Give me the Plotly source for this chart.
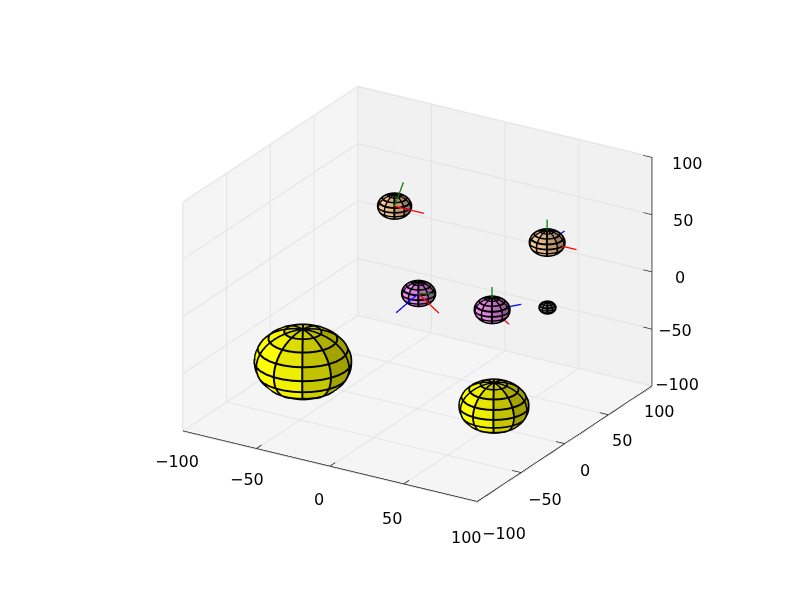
import numpy as np
import plotly.graph_objects as go

body_x = [-40.5, 71.5, -57.5, 64, -15, 34, 52]
body_y = [-62.9, -33.1, 70.5, 40.4, 26.4, 28, 61]
body_z = [-40, -59.1, 23.5, 44.4, -17.4, -17.4, -26.5]
body_r = [28, 20, 9.5, 10, 9.5, 10, 4.5]
body_rgb = [(255, 255, 0), (255, 255, 0), (250, 200, 150), (250, 200, 150),
            (240, 140, 240), (240, 140, 240), (170, 170, 170)]

origin_x = [-52.3, 64, -9.8, 34]
origin_y = [61.55, 40.4, 17.4, 28]
origin_z = [29.5, 44.4, -11.4, -17.4]
red_tip = [(-36, 68.05, 25.1), (84, 40.4, 44.4), (4.4, 17.2, -24), (39.5, 38.35, -33.55)]
green_tip = [(-52.3, 71.95, 45.2), (64, 40.4, 64.4), (-1.7, 22.05, -11.4), (34, 28, 2.6)]
blue_tip = [(-44.2, 64.95, 27.6), (64, 60.4, 44.4), (-17.3, 4.7, -24), (43.2, 45.8, -18.7)]

tick_vals = [-100, -50, 0, 50, 100]
tick_text = ["\u2212100", "\u221250", "0", "50", "100"]

x_label_shift = [(-5.5, -30), (-9, -31), (-11, -33), (-12, -34), (-10.5, -36)]
y_label_shift = [(26.5, -32), (24, -27), (20.5, -26.5), (14, -25), (7.5, -25)]
z_label_shift = [(24.5, 2), (23, -2), (27.5, -5.5), (31, -6), (35.5, -6)]

N_LAT, N_LON, SUB = 8, 10, 3
LIGHT = np.array([-0.8, -0.5, -0.15])
R_EYE = 2.41
EYE_DIR = (0.473, -0.785, 0.398)
VIEW = np.array([0.433, -0.75, 0.5])
CENTER = (-0.0178, -0.0319, -0.0425)


def sphere_grid(cx, cy, cz, r):
    th = np.linspace(0, np.pi, N_LAT * SUB + 1)
    ph = np.linspace(0, 2 * np.pi, N_LON * SUB + 1)[:-1] - 1.047
    T, P = np.meshgrid(th, ph, indexing="ij")
    return (cx + r * np.sin(T) * np.cos(P), cy + r * np.sin(T) * np.sin(P), cz + r * np.cos(T))


def sphere_mesh(X, Y, Z, rgb, shaded=True):
    M = N_LON * SUB
    idx = lambda i, j: i * M + (j % M)
    I, J, K, FC = [], [], [], []
    for i in range(N_LAT * SUB):
        for j in range(M):
            a, b, c, d = idx(i, j), idx(i, j + 1), idx(i + 1, j + 1), idx(i + 1, j)
            tm = (i // SUB + 0.5) * np.pi / N_LAT
            pm = (j // SUB + 0.5) * 2 * np.pi / N_LON - 1.047
            n = np.array([np.sin(tm) * np.cos(pm), np.sin(tm) * np.sin(pm), np.cos(tm)])
            s = min(1.0, max(0.63, 0.85 + 0.3 * float(n @ LIGHT))) if shaded else 1.0
            col = "rgb(%d,%d,%d)" % tuple(int(v * s) for v in rgb)
            for tri in ((a, b, c), (a, c, d)):
                I.append(tri[0]); J.append(tri[1]); K.append(tri[2]); FC.append(col)
    return go.Mesh3d(x=X.ravel(), y=Y.ravel(), z=Z.ravel(), i=I, j=J, k=K, facecolor=FC,
                     flatshading=True, hoverinfo="skip", showscale=False,
                     lighting=dict(ambient=1, diffuse=0, specular=0, roughness=1, fresnel=0))


def sphere_parts(cx, cy, cz, r, rgb):
    X, Y, Z = sphere_grid(cx, cy, cz, r)
    WX, WY, WZ = sphere_grid(cx, cy, cz, r * 1.015)
    back = max(0.3 * r, 2.0)
    rim = sphere_grid(cx - back * VIEW[0], cy - back * VIEW[1], cz - back * VIEW[2], r + 0.9)
    M = N_LON * SUB
    lx, ly, lz = [], [], []
    for i in range(SUB, N_LAT * SUB, SUB):
        lx += list(WX[i]) + [WX[i, 0], None]
        ly += list(WY[i]) + [WY[i, 0], None]
        lz += list(WZ[i]) + [WZ[i, 0], None]
    for j in range(0, M, SUB):
        lx += list(WX[:, j]) + [None]
        ly += list(WY[:, j]) + [None]
        lz += list(WZ[:, j]) + [None]
    wire = go.Scatter3d(x=lx, y=ly, z=lz, mode="lines", line=dict(color="black", width=4),
                        hoverinfo="skip", showlegend=False)
    return [sphere_mesh(*rim, (0, 0, 0), shaded=False), sphere_mesh(X, Y, Z, rgb), wire]


fig = go.Figure()
for cx, cy, cz, r, rgb in zip(body_x, body_y, body_z, body_r, body_rgb):
    for t in sphere_parts(cx, cy, cz, r, rgb):
        fig.add_trace(t)

for tips, col in ((red_tip, "red"), (green_tip, "green"), (blue_tip, "blue")):
    xs, ys, zs = [], [], []
    for ox, oy, oz, tip in zip(origin_x, origin_y, origin_z, tips):
        xs += [ox, tip[0], None]
        ys += [oy, tip[1], None]
        zs += [oz, tip[2], None]
    fig.add_trace(go.Scatter3d(x=xs, y=ys, z=zs, mode="lines", line=dict(color=col, width=2.5),
                               hoverinfo="skip", showlegend=False))

# axis edges and short inward ticks
ax, ay, az = [100, 100], [100, 100], [-100, 100]
ax += [None, -100, 100, None, 100, 100]
ay += [None, -100, -100, None, -100, 100]
az += [None, -100, -100, None, -100, -100]
for v in tick_vals:
    ax += [None, 94, 100, None, v, v, None, 94, 100]
    ay += [None, 100, 100, None, -100, -94, None, v, v]
    az += [None, v, v, None, -100, -100, None, -100, -100]
fig.add_trace(go.Scatter3d(x=ax, y=ay, z=az, mode="lines", line=dict(color="black", width=2.5),
                           hoverinfo="skip", showlegend=False))


def axis(bg):
    return dict(range=[-100, 100], tickvals=tick_vals, ticktext=tick_text, title=dict(text=""),
                showbackground=True, backgroundcolor=bg, gridcolor="#e6e6e6", gridwidth=3,
                showline=False, zeroline=False, showticklabels=False, ticks="", showspikes=False)


label_font = dict(family="DejaVu Sans", size=16, color="black")
annotations = []
for v, t, (sx, sy) in zip(tick_vals, tick_text, x_label_shift):
    annotations.append(dict(x=v, y=-100, z=-100, text=t, showarrow=False, xshift=sx, yshift=sy, font=label_font))
for v, t, (sx, sy) in zip(tick_vals, tick_text, y_label_shift):
    annotations.append(dict(x=100, y=v, z=-100, text=t, showarrow=False, xshift=sx, yshift=sy, font=label_font))
for v, t, (sx, sy) in zip(tick_vals, tick_text, z_label_shift):
    annotations.append(dict(x=100, y=100, z=v, text=t, showarrow=False, xshift=sx, yshift=sy, font=label_font))

fig.update_layout(
    width=800, height=600, paper_bgcolor="white", showlegend=False,
    margin=dict(l=0, r=0, t=0, b=0),
    scene=dict(
        xaxis=axis("#f5f5f5"), yaxis=axis("#f1f1f1"), zaxis=axis("#f5f5f5"),
        aspectmode="manual", aspectratio=dict(x=1.146, y=1.13, z=0.832),
        annotations=annotations,
        camera=dict(projection=dict(type="orthographic"),
                    eye=dict(x=CENTER[0] + EYE_DIR[0] * R_EYE, y=CENTER[1] + EYE_DIR[1] * R_EYE,
                             z=CENTER[2] + EYE_DIR[2] * R_EYE),
                    center=dict(x=CENTER[0], y=CENTER[1], z=CENTER[2]),
                    up=dict(x=0, y=0, z=1)),
    ),
)
fig.write_html("out.html")
